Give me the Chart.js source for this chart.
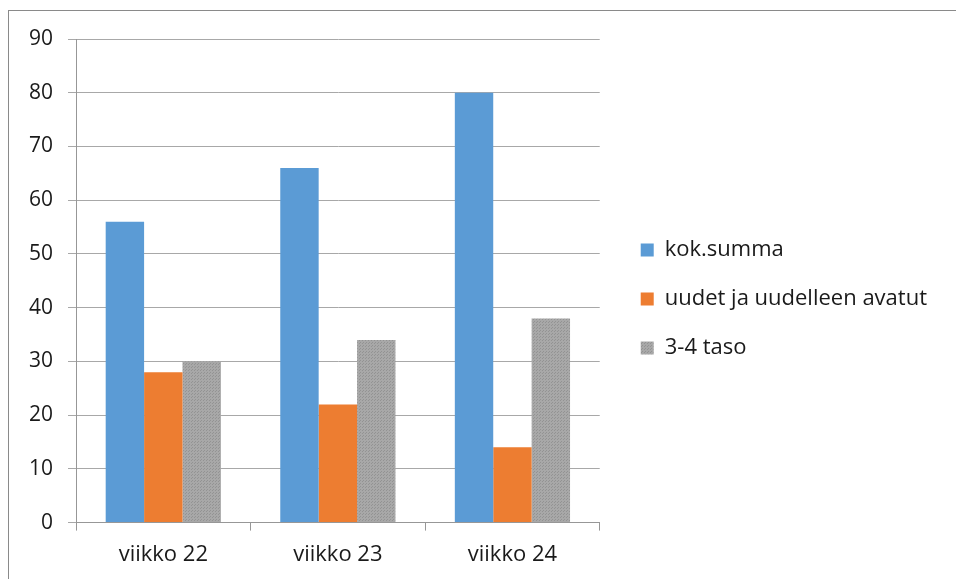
<!DOCTYPE html>
<html>
<head>
<meta charset="utf-8">
<script src="https://cdn.jsdelivr.net/npm/chart.js@4/dist/chart.umd.min.js"></script>
<style>
  html, body { margin: 0; padding: 0; background: #fff; }
  #wrap { position: relative; width: 956px; height: 579px; overflow: hidden; }
  #frame { position: absolute; left: 8px; top: 10px; width: 1000px; height: 1000px;
           border-top: 1px solid #8a8a8a; border-left: 1px solid #8a8a8a; }
  canvas { position: absolute; left: 0; top: 0; }
</style>
</head>
<body>
<div id="wrap">
  <div id="frame"></div>
  <canvas id="chart" width="956" height="579"></canvas>
</div>
<script>
const categories = ["viikko 22", "viikko 23", "viikko 24"];
const kokSumma = [56, 66, 80];
const uudet = [28, 22, 14];
const taso34 = [30, 34, 38];
const seriesLabels = ["kok.summa", "uudet ja uudelleen avatut", "3-4 taso"];

const FONT = "'Open Sans', sans-serif";

// dotted grey fill like the original
function dotPattern() {
  const c = document.createElement("canvas");
  c.width = 3; c.height = 3;
  const g = c.getContext("2d");
  g.fillStyle = "#a8a8a8";
  g.fillRect(0, 0, 3, 3);
  g.fillStyle = "#939393";
  g.fillRect(0, 0, 1, 1);
  g.fillRect(2, 1, 1, 1);
  return g.createPattern(c, "repeat");
}

// move the legend a bit right/up, the built-in padding ties gap and row spacing together
const legendShift = {
  id: "legendShift",
  beforeDraw(chart) {
    const lg = chart.legend;
    if (!lg || lg._shifted) return;
    lg.left += 14; lg.right += 14;
    lg.top -= 10; lg.bottom -= 10;
    lg._shifted = true;
  }
};

function draw() {
  const canvas = document.getElementById("chart");
  new Chart(canvas, {
    type: "bar",
    data: {
      labels: categories,
      datasets: [
        { label: seriesLabels[0], data: kokSumma, backgroundColor: "#5b9bd5" },
        { label: seriesLabels[1], data: uudet, backgroundColor: "#ed7d31" },
        { label: seriesLabels[2], data: taso34, backgroundColor: dotPattern() }
      ]
    },
    plugins: [legendShift],
    options: {
      responsive: false,
      animation: false,
      layout: { padding: { left: 14, top: 39, right: 33, bottom: 0 } },
      datasets: { bar: { barPercentage: 1, categoryPercentage: 0.66 } },
      plugins: {
        tooltip: { enabled: false },
        legend: {
          position: "right",
          maxWidth: 400,
          labels: {
            boxWidth: 13,
            boxHeight: 13,
            padding: 27,
            color: "#1a1a1a",
            font: { family: FONT, size: 22 }
          }
        }
      },
      scales: {
        x: {
          grid: { offset: true, drawOnChartArea: false, tickLength: 8, color: "#979797" },
          border: { color: "#979797" },
          ticks: { color: "#1a1a1a", padding: 11, font: { family: FONT, size: 22 } }
        },
        y: {
          min: 0,
          max: 90,
          ticks: { stepSize: 10, color: "#1a1a1a", padding: 15, font: { family: FONT, size: 21 } },
          grid: { color: "#a8a8a8", tickLength: 8 },
          border: { color: "#979797" }
        }
      }
    }
  });
}

if (document.fonts && document.fonts.load) {
  document.fonts.load("22px 'Open Sans'").then(draw, draw);
} else {
  draw();
}
</script>
</body>
</html>
